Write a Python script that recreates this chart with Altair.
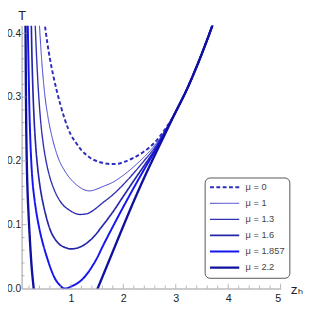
import altair as alt
import pandas as pd

# ---------------- data ----------------
mu_labels = ["μ = 0", "μ = 1", "μ = 1.3", "μ = 1.6", "μ = 1.857", "μ = 2.2"]

z_mu0 = [0.46, 0.5, 0.55, 0.6, 0.66, 0.73, 0.8, 0.88, 0.95, 1.0, 1.1, 1.2, 1.3, 1.4, 1.5, 1.6, 1.75,
         1.9, 2.0, 2.2, 2.4, 2.6, 2.8, 3.0, 3.2, 3.4, 3.6, 3.75]
T_mu0 = [0.44, 0.415, 0.385, 0.36, 0.335, 0.31, 0.288, 0.266, 0.25, 0.241, 0.228, 0.217, 0.209, 0.203, 0.1995,
         0.197, 0.195, 0.1955, 0.198, 0.205, 0.215, 0.229, 0.25, 0.277, 0.31, 0.348, 0.39, 0.424]

z_mu1 = [0.38, 0.40, 0.45, 0.5, 0.56, 0.63, 0.7, 0.78, 0.87, 1.0, 1.1, 1.2, 1.35, 1.5, 1.6, 1.8, 2.0,
         2.2, 2.4, 2.6, 2.8, 3.0, 3.2, 3.4, 3.6, 3.75]
T_mu1 = [0.44, 0.412, 0.35, 0.305, 0.27, 0.241, 0.219, 0.2, 0.186, 0.171, 0.163, 0.157, 0.153, 0.156,
         0.1595, 0.1665, 0.1775, 0.191, 0.2065, 0.2245, 0.2485, 0.277, 0.31, 0.348, 0.39, 0.424]

z_mu13 = [0.30, 0.32, 0.35, 0.38, 0.42, 0.47, 0.53, 0.6, 0.68, 0.77, 0.86, 0.95, 1.05, 1.17, 1.3, 1.4,
          1.6, 1.8, 2.0, 2.2, 2.4, 2.6, 2.8, 3.0, 3.2, 3.4, 3.6, 3.75]
T_mu13 = [0.46, 0.412, 0.355, 0.31, 0.265, 0.228, 0.198, 0.174, 0.155, 0.14, 0.13, 0.124, 0.119, 0.116,
          0.117, 0.121, 0.134, 0.147, 0.163, 0.181, 0.2006, 0.221, 0.2475, 0.277, 0.31, 0.348, 0.39, 0.424]

z_mu16 = [0.235, 0.245, 0.255, 0.27, 0.28, 0.3, 0.33, 0.37, 0.42, 0.47, 0.53, 0.6, 0.7, 0.8, 0.9, 1.0,
          1.1, 1.2, 1.3, 1.4, 1.6, 1.8, 2.0, 2.2, 2.4, 2.6, 2.8, 3.0, 3.2, 3.4, 3.6, 3.75]
T_mu16 = [0.455, 0.412, 0.37, 0.325, 0.3, 0.262, 0.222, 0.186, 0.155, 0.133, 0.112, 0.093, 0.077, 0.068,
          0.064, 0.062, 0.063, 0.066, 0.071, 0.078, 0.098, 0.12, 0.1445, 0.169, 0.193, 0.2175, 0.246, 0.277,
          0.31, 0.348, 0.39, 0.424]

z_mu1857 = [0.17, 0.18, 0.195, 0.21, 0.225, 0.245, 0.27, 0.3, 0.33, 0.4, 0.48, 0.55, 0.62, 0.7, 0.78, 0.88,
            0.95, 1.0, 1.1, 1.2, 1.3, 1.4, 1.5, 1.6, 1.8, 2.0, 2.2, 2.4, 2.6, 2.8, 3.0, 3.2, 3.4, 3.6, 3.75]
T_mu1857 = [0.45, 0.4, 0.335, 0.275, 0.235, 0.197, 0.166, 0.143, 0.125, 0.093, 0.066, 0.047, 0.03, 0.015,
            0.006, 0.0, 0.001, 0.003, 0.007, 0.013, 0.022, 0.034, 0.048, 0.065, 0.097, 0.128, 0.158, 0.187,
            0.215, 0.245, 0.277, 0.31, 0.348, 0.39, 0.424]

z_mu22 = [0.128, 0.134, 0.14, 0.147, 0.158, 0.172, 0.19, 0.215, 0.25, 0.29, 0.32, 1.46, 1.51, 1.6, 1.8,
          2.0, 2.2, 2.4, 2.6, 2.8, 3.0, 3.2, 3.4, 3.6, 3.75]
T_mu22 = [0.45, 0.412, 0.335, 0.262, 0.2, 0.155, 0.12, 0.08, 0.035, 0.0, -0.025, -0.01, 0.0, 0.018, 0.058,
          0.098, 0.137, 0.174, 0.209, 0.243, 0.277, 0.31, 0.348, 0.39, 0.424]

line_colors = ["#2e2ebd", "#3a3acc", "#3030b5", "#2525a8", "#1515f0", "#1010a0"]
line_widths = [2.0, 1.0, 1.4, 1.7, 2.0, 2.4]
line_dashes = [[4, 2.5], [1, 0], [1, 0], [1, 0], [1, 0], [1, 0]]

x_major = [1, 2, 3, 4, 5]
x_minor = [round(0.2 * i, 2) for i in range(1, 25) if i % 5 != 0]
y_major = [0.1, 0.2, 0.3, 0.4]
y_minor = [round(0.02 * i, 2) for i in range(1, 21) if i % 5 != 0]
y_labels_at = [0.0, 0.1, 0.2, 0.3, 0.4]

# ---------------- tables ----------------
series = [z_mu0, z_mu1, z_mu13, z_mu16, z_mu1857, z_mu22]
values = [T_mu0, T_mu1, T_mu13, T_mu16, T_mu1857, T_mu22]
rows = []
for lab, zs, ts in zip(mu_labels, series, values):
    for z, t in zip(zs, ts):
        rows.append({"mu": lab, "z": z, "T": t})
df = pd.DataFrame(rows)

W, H = 266, 270
xs = alt.Scale(domain=[0.06, 5], nice=False, zero=False)
ys = alt.Scale(domain=[0, 0.412], nice=False, zero=False)
FONT = "Liberation Sans, Arial, DejaVu Sans"

x_axis = alt.Axis(
    values=x_major, ticks=False, grid=False, domainColor="#bbbbbb", domainWidth=1.5,
    labelFont=FONT, labelFontSize=11, labelColor="#222", labelPadding=4,
    title="zₕ", titleFont=FONT, titleFontSize=14, titleFontWeight="normal", titleColor="#222",
    titleX=W + 10, titleY=1, titleAlign="left", titleBaseline="middle")
y_axis = alt.Axis(
    values=y_labels_at, format=".1f", ticks=False, grid=False, domainColor="#bbbbbb", domainWidth=1.5,
    labelFont=FONT, labelFontSize=10.5, labelColor="#222", labelPadding=1,
    title="T", titleFont=FONT, titleFontSize=13, titleFontWeight="normal", titleColor="#222",
    titleAngle=0, titleX=0, titleY=-10, titleAlign="center", titleBaseline="middle")

legend = alt.Legend(
    title=None, orient="none", legendX=188, legendY=156,
    symbolType="stroke", symbolSize=900, clipHeight=12, rowPadding=4.5,
    padding=4, labelOffset=5, labelFont=FONT, labelFontSize=9.5, labelColor="#444",
    fillColor="white", strokeColor="#555", cornerRadius=5,
)

lines = alt.Chart(df).mark_line(clip=True, interpolate="monotone").encode(
    x=alt.X("z:Q", scale=xs, axis=x_axis, title="zₕ"),
    y=alt.Y("T:Q", scale=ys, axis=y_axis, title="T"),
    color=alt.Color("mu:N", sort=mu_labels, scale=alt.Scale(domain=mu_labels, range=line_colors), legend=legend),
    strokeDash=alt.StrokeDash("mu:N", sort=mu_labels, scale=alt.Scale(domain=mu_labels, range=line_dashes), legend=legend),
    strokeWidth=alt.StrokeWidth("mu:N", sort=mu_labels, scale=alt.Scale(type="ordinal", domain=mu_labels, range=line_widths), legend=legend),
)

def xticks(vals, size):
    return alt.Chart(pd.DataFrame({"v": vals})).mark_tick(
        orient="vertical", size=size, thickness=1, color="#999999", yOffset=-size / 2
    ).encode(x=alt.X("v:Q", scale=xs, axis=x_axis, title="zₕ"),
             y=alt.Y(datum=0, scale=ys, axis=y_axis, title="T"))

def yticks(vals, size):
    return alt.Chart(pd.DataFrame({"v": vals})).mark_tick(
        orient="horizontal", size=size, thickness=1, color="#999999", xOffset=size / 2
    ).encode(y=alt.Y("v:Q", scale=ys, axis=y_axis, title="T"),
             x=alt.X(datum=0.06, scale=xs, axis=x_axis, title="zₕ"))

chart = alt.layer(
    lines,
    xticks(x_major, 5), xticks(x_minor, 3),
    yticks(y_major, 5), yticks(y_minor, 3),
).properties(
    width=W, height=H,
    autosize=alt.AutoSizeParams(type="none"),
    padding={"left": 14, "top": 14, "right": 23, "bottom": 19},
    background="white",
).configure_view(stroke=None)

chart.save("out.html", embed_options={"renderer": "svg", "actions": False})
